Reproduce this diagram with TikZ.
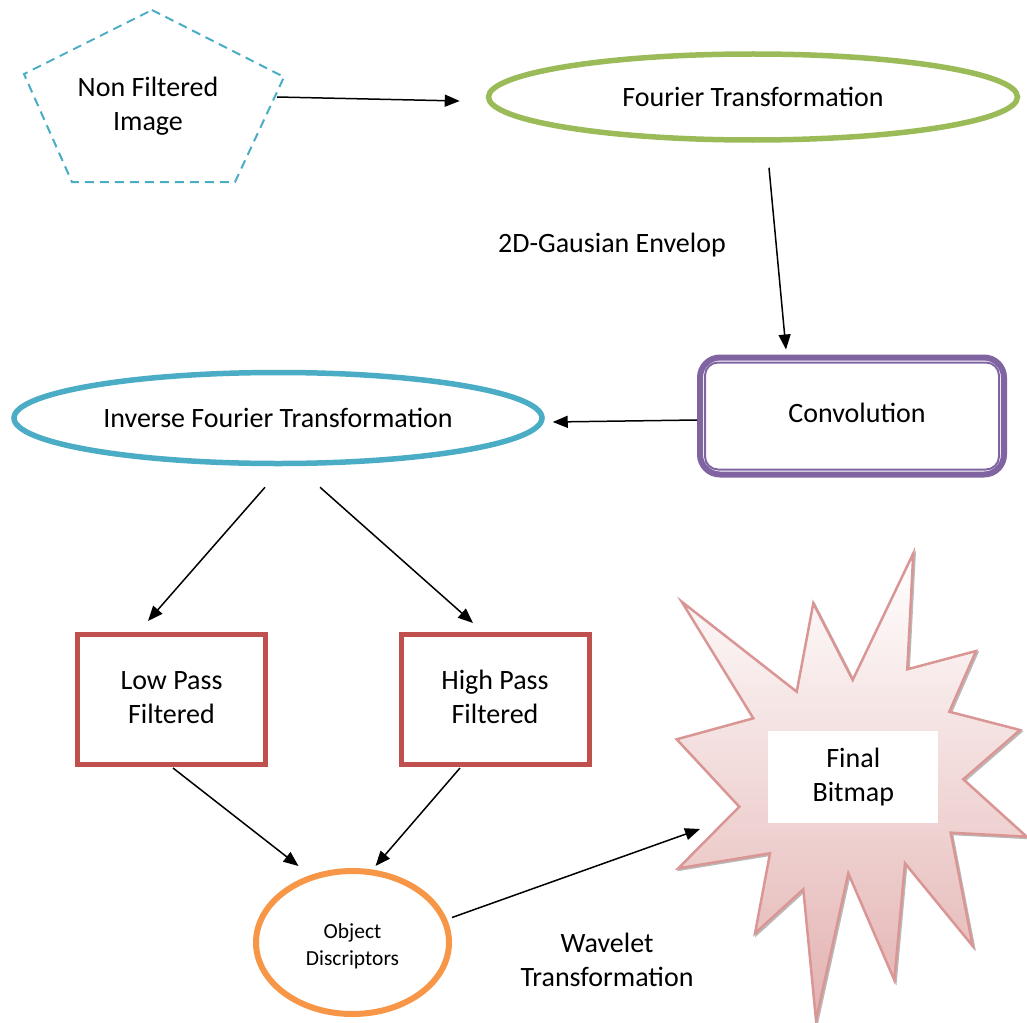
\documentclass[tikz,border=0pt]{standalone}
\usepackage{fontspec}
\setmainfont{Carlito}
\usetikzlibrary{arrows.meta,shapes.geometric,calc}
\definecolor{cgreen}{HTML}{9BBB59}
\definecolor{cblue}{HTML}{4BACC6}
\definecolor{cpurple}{HTML}{8064A2}
\definecolor{cred}{HTML}{C0504D}
\definecolor{corange}{HTML}{F79646}
\definecolor{burstline}{HTML}{D99694}
\definecolor{burstfill}{HTML}{E3B2B1}
\tikzset{
  lbl/.style={font=\fontsize{28}{34}\selectfont, align=center, inner sep=0pt},
  oval/.style={ellipse, line width=5.5pt, inner sep=0pt, lbl},
  filterbox/.style={rectangle, draw=cred, line width=5pt, minimum width=188pt, minimum height=130pt, lbl},
  arr/.style={line width=1.5pt, -{Triangle[length=15pt,width=12pt]}},
}
\begin{document}
\begin{tikzpicture}[x=1pt,y=-1pt]
\useasboundingbox (0,0) rectangle (1027,1022);

% dashed pentagon holding the input image
\draw[cblue, line width=2pt, dash pattern=on 9pt off 6pt]
  (152,10) -- (284,77) -- (235,182) -- (72,182) -- (24,74) -- cycle;
\node[lbl] (nfi) at (148,106) {Non Filtered\\Image};
\coordinate (pentR) at (277,97);

% Fourier transformation
\node[oval, draw=cgreen, minimum width=529pt, minimum height=86pt] (four) at (753,97) {Fourier Transformation};

% Convolution: thick outer frame with thin inner frame
\node[lbl, rectangle, draw=cpurple, line width=6pt, rounded corners=20pt,
      minimum width=304pt, minimum height=117pt] (conv) at (852,416) {\hspace*{10pt}\raisebox{7pt}{Convolution}};
\draw[cpurple, line width=2pt, rounded corners=13pt]
  ([shift={(8pt,-8pt)}]conv.north west) rectangle ([shift={(-8pt,8pt)}]conv.south east);

% Inverse Fourier transformation
\node[oval, draw=cblue, minimum width=528pt, minimum height=91pt] (inv) at (278,418) {Inverse Fourier Transformation};

% Filters
\node[filterbox] (low) at (171.5,699.5) {\raisebox{3pt}{\begin{tabular}{@{}c@{}}Low Pass\\Filtered\end{tabular}}};
\node[filterbox] (high) at (495,699.5) {\raisebox{3pt}{\begin{tabular}{@{}c@{}}High Pass\\Filtered\end{tabular}}};

% Object descriptors
\node[ellipse, draw=corange, line width=6pt, minimum width=193pt, minimum height=143pt,
      font=\fontsize{21.5}{27}\selectfont, align=center, inner sep=0pt] (obj) at (352.5,942.5) {\begin{tabular}{@{}c@{}}\rule{0pt}{27pt}Object\\Discriptors\end{tabular}};

% Starburst with shadow and gradient fill
\def\burstpath{(681.7,601.7) -- (796.7,691.7) -- (813.3,603.3) -- (852.7,680) -- (913.3,553.3) -- (907.3,669.3) -- (976,651) -- (949.3,711.7) -- (1020,730) -- (963.3,779.3) -- (1026.7,836.7) -- (950.7,832.7) -- (972.7,946) -- (905,863.3) -- (894.3,980) -- (848.3,873.3) -- (816,1020) -- (803.3,889.3) -- (755,933.3) -- (770,853.3) -- (678.3,868.3) -- (739.3,806.7) -- (676.7,739.3) -- (753.3,718.3) -- cycle}
\draw[gray!55, line width=2pt, shift={(1.5pt,-1.5pt)}] \burstpath;
\shadedraw[top color=white, bottom color=burstfill, draw=burstline, line width=2.5pt] \burstpath;
\node[lbl, rectangle, fill=white, minimum width=170pt, minimum height=92.5pt] (final) at (853.3,777) {Final\\Bitmap};
\coordinate (burstL) at (700,829);

% Edge labels
\node[lbl] (gaus) at (612,245) {2D-Gausian Envelop};
\node[lbl] (wav) at (607,960) {Wavelet\\Transformation};

% Connectors
\draw[arr] (pentR) -- ([xshift=-26pt,yshift=-4pt]four.west);
\draw[arr] ([xshift=16pt,yshift=-25pt]four.south) -- ([xshift=-66pt,yshift=5pt]conv.north);
\draw[arr] ([yshift=-4pt]conv.west) -- ([xshift=8pt,yshift=-4pt]inv.east);
\draw[arr] ([xshift=-13pt,yshift=-21pt]inv.south) -- ([xshift=-23.5pt,yshift=11pt]low.north);
\draw[arr] ([xshift=42pt,yshift=-21pt]inv.south) -- ([xshift=-22pt,yshift=9pt]high.north);
\draw[arr] ([xshift=1.5pt,yshift=-1pt]low.south) -- ([xshift=-54pt,yshift=2pt]obj.north);
\draw[arr] ([xshift=-35pt,yshift=-1pt]high.south) -- ([xshift=23pt,yshift=2pt]obj.north);
\draw[arr] ([yshift=25pt]obj.east) -- (burstL);
\end{tikzpicture}
\end{document}
